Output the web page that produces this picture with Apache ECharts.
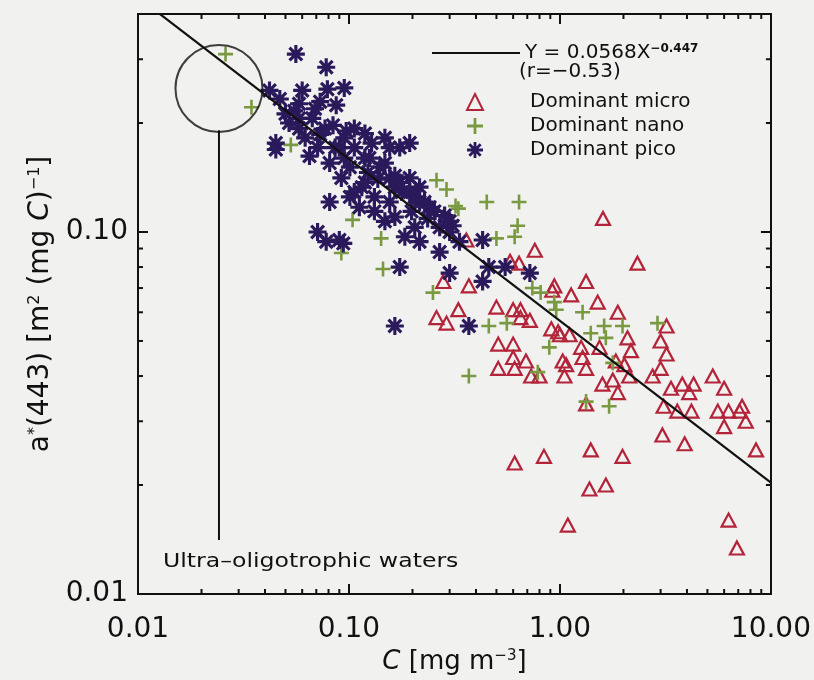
<!DOCTYPE html>
<html>
<head>
<meta charset="utf-8">
<script src="https://cdn.jsdelivr.net/npm/echarts@6/dist/echarts.min.js"></script>
<style>
html, body { margin: 0; padding: 0; background: #f1f1ef; }
#chart { width: 814px; height: 680px; }
</style>
</head>
<body>
<div id="chart"></div>
<script>
// Chlorophyll concentration C [mg m^-3] vs specific absorption a*(443)
const microData = [
  [0.36,0.095],[0.58,0.083],[0.64,0.082],[0.28,0.073],[0.37,0.071],[0.50,0.062],[0.60,0.061],
  [0.65,0.061],[0.26,0.058],[0.29,0.056],[0.33,0.061],[0.51,0.049],[0.60,0.049],[0.60,0.045],
  [0.51,0.042],[0.61,0.042],[1.60,0.109],[2.33,0.082],[0.76,0.089],[1.33,0.073],[0.94,0.071],
  [0.92,0.069],[1.13,0.067],[1.51,0.064],[1.88,0.060],[0.65,0.058],[0.72,0.057],[0.91,0.054],
  [0.98,0.053],[1.00,0.052],[1.11,0.052],[1.26,0.048],[1.54,0.048],[2.09,0.051],[2.17,0.047],
  [1.84,0.044],[2.02,0.043],[3.00,0.050],[3.20,0.055],[3.20,0.046],[3.00,0.042],[2.75,0.040],
  [0.69,0.044],[0.73,0.040],[0.80,0.040],[1.03,0.044],[1.07,0.043],[1.05,0.040],[1.28,0.045],
  [1.33,0.042],[1.59,0.038],[1.78,0.039],[1.88,0.036],[2.13,0.040],[3.36,0.037],[3.80,0.038],
  [4.30,0.038],[4.10,0.036],[5.30,0.040],[6.00,0.037],[3.10,0.033],[3.60,0.032],[4.20,0.032],
  [5.60,0.032],[6.30,0.032],[7.30,0.033],[7.10,0.032],[6.00,0.029],[7.60,0.030],[3.06,0.0275],
  [3.90,0.026],[0.61,0.023],[0.84,0.024],[1.40,0.025],[1.98,0.024],[1.38,0.0195],[1.65,0.020],
  [1.09,0.0155],[8.50,0.025],[6.30,0.016],[6.90,0.0134],[1.33,0.0335]
];

const nanoData = [
  [0.026,0.31],[0.0345,0.221],[0.053,0.174],[0.26,0.139],[0.104,0.108],[0.142,0.096],
  [0.29,0.131],[0.32,0.118],[0.45,0.121],[0.64,0.121],[0.63,0.104],[0.61,0.097],[0.092,0.0875],
  [0.145,0.079],[0.25,0.068],[0.46,0.055],[0.37,0.040],[0.56,0.056],[0.50,0.096],[0.33,0.116],
  [0.74,0.070],[0.81,0.068],[0.94,0.064],[0.96,0.061],[1.28,0.060],[1.62,0.055],[1.98,0.055],
  [1.65,0.051],[0.89,0.048],[1.40,0.0525],[1.78,0.0435],[0.785,0.041],[1.71,0.033],[2.90,0.056],
  [1.33,0.034]
];

const picoData = [
  [0.056,0.31],[0.078,0.285],[0.042,0.246],[0.060,0.246],[0.079,0.248],[0.095,0.25],[0.047,0.233],
  [0.050,0.212],[0.058,0.226],[0.073,0.229],[0.087,0.224],[0.045,0.176],[0.073,0.186],[0.084,0.197],
  [0.097,0.19],[0.194,0.176],[0.090,0.095],[0.045,0.169],[0.081,0.121],[0.094,0.093],[0.174,0.080],
  [0.165,0.055],[0.37,0.055],[0.30,0.077],[0.43,0.073],[0.43,0.095],[0.31,0.104],[0.55,0.080],
  [0.72,0.077],[0.46,0.080],
  [0.106,0.171],[0.119,0.160],[0.101,0.151],[0.128,0.176],[0.148,0.155],[0.165,0.143],[0.137,0.140],
  [0.115,0.133],[0.092,0.141],[0.081,0.155],[0.065,0.162],[0.071,0.171],[0.058,0.193],[0.052,0.200],
  [0.067,0.206],[0.148,0.182],[0.174,0.171],[0.178,0.129],[0.205,0.125],[0.228,0.121],[0.198,0.114],
  [0.236,0.109],[0.269,0.103],[0.284,0.111],[0.156,0.121],[0.132,0.114],[0.148,0.107],[0.112,0.117],
  [0.101,0.125],[0.071,0.100],[0.078,0.094],[0.184,0.097],[0.216,0.094],[0.269,0.088],[0.119,0.187],
  [0.090,0.171],[0.062,0.182],[0.055,0.216],[0.165,0.133],[0.194,0.141],[0.216,0.133],[0.241,0.117],
  [0.30,0.107],[0.334,0.094],[0.132,0.125],[0.123,0.146],
  [0.058,0.206],[0.086,0.171],[0.095,0.182],[0.106,0.193],[0.125,0.160],[0.140,0.151],[0.156,0.141],
  [0.174,0.137],[0.194,0.129],[0.216,0.121],[0.254,0.114],[0.30,0.100],[0.119,0.137],[0.106,0.129],
  [0.095,0.160],[0.077,0.193],[0.069,0.219],[0.156,0.171],[0.165,0.110],[0.205,0.103]
];

// Power-law fit Y = a * X^b and its correlation
const fitCoef = 0.0568;
const fitExp = -0.447;
const fitR = -0.53;

// Ultra-oligotrophic annotation: circle centre and the leader line below it
const oligoCentre = [0.0242, 0.249];
const oligoLeader = [[0.0242, 0.191], [0.0242, 0.0141]];

const xRange = [0.01, 10];
const yRange = [0.01, 0.4];
const xLabels = ['0.01', '0.10', '1.00', '10.00'];
const yLabels = ['0.01', '0.10'];

const seriesNames = ['Dominant micro', 'Dominant nano', 'Dominant pico'];

// minor ticks at 2..9 of each decade
function minorTicks(lo, hi) {
  const out = [];
  for (let d = lo; d < hi * 0.999; d *= 10) {
    for (let m = 2; m <= 9; m++) {
      const v = d * m;
      if (v < hi * 0.999) out.push(v);
    }
  }
  return out;
}
const xMinor = minorTicks(xRange[0], xRange[1]);
const yMinor = minorTicks(yRange[0], yRange[1]);

// symbol outlines
function starPath(arms, L, w) {
  const pts = [];
  const r = w / Math.sin(Math.PI / arms);
  for (let k = 0; k < arms; k++) {
    const t = k * 2 * Math.PI / arms;
    const c = Math.cos(t), s = Math.sin(t);
    pts.push([L * c + w * s, L * s - w * c]);
    pts.push([L * c - w * s, L * s + w * c]);
    const m = t + Math.PI / arms;
    pts.push([r * Math.cos(m), r * Math.sin(m)]);
  }
  return 'path://M' + pts.map(p => p[0].toFixed(3) + ',' + p[1].toFixed(3)).join('L') + 'Z';
}
const plusPath = 'path://M-1.3,-7.5L1.3,-7.5L1.3,-1.3L7.5,-1.3L7.5,1.3L1.3,1.3L1.3,7.5L-1.3,7.5L-1.3,1.3L-7.5,1.3L-7.5,-1.3L-1.3,-1.3Z';
const asteriskPath = starPath(8, 8, 1.4);
const fitIcon = 'path://M0,0L88,0L88,2.2L0,2.2Z';

const INK = '#111111';
const MICRO = '#b3243a';
const NANO = '#7a9a42';
const PICO = '#2a1a5c';
const FONT = 'DejaVu Sans';

function fmtNum(v) { return String(v).replace('-', '\u2212'); }

const fitLine = [xRange[0], xRange[1]].map(x => [x, fitCoef * Math.pow(x, fitExp)]);

const chart = echarts.init(document.getElementById('chart'));

const axisCommon = {
  type: 'log',
  logBase: 10,
  axisLine: { show: true, onZero: false, lineStyle: { color: INK, width: 2 } },
  axisTick: { show: true, inside: true, length: 10, lineStyle: { color: INK, width: 2 } },
  splitLine: { show: false },
  minorTick: { show: false },
  minorSplitLine: { show: false }
};

function near(v, ref) { return Math.abs(Math.log10(v) - Math.log10(ref)) < 1e-6; }

chart.setOption({
  backgroundColor: '#f1f1ef',
  animation: false,
  grid: { left: 138, right: 42, top: 14, bottom: 77, containLabel: false },
  xAxis: [
    Object.assign({}, axisCommon, {
      position: 'bottom',
      min: xRange[0], max: xRange[1],
      axisLabel: {
        show: true, margin: 22, color: INK, fontFamily: FONT, fontSize: 28,
        formatter: v => {
          const i = [0.01, 0.1, 1, 10].findIndex(r => near(v, r));
          return i >= 0 ? xLabels[i] : '';
        }
      },
      name: '{i|C} [mg m{s|\u22123}]',
      nameLocation: 'middle',
      nameGap: 55,
      nameTextStyle: {
        color: INK, fontFamily: FONT, fontSize: 26,
        rich: {
          i: { fontFamily: FONT, fontSize: 26, fontStyle: 'italic', color: INK },
          s: { fontFamily: FONT, fontSize: 15, color: INK, verticalAlign: 'top', padding: [0, 0, 10, 0] }
        }
      }
    }),
    Object.assign({}, axisCommon, {
      position: 'top',
      min: xRange[0], max: xRange[1],
      axisLabel: { show: false }
    })
  ],
  yAxis: [
    Object.assign({}, axisCommon, {
      position: 'left',
      min: yRange[0], max: yRange[1],
      axisLabel: {
        show: true, margin: 10, color: INK, fontFamily: FONT, fontSize: 28,
        formatter: v => {
          const i = [0.01, 0.1].findIndex(r => near(v, r));
          return i >= 0 ? yLabels[i] : '';
        }
      },
      name: '{t|a}{s|*}{t|(443) [m}{s|2}{t| (mg }{i|C}{t|)}{s|\u22121}{t|]}',
      nameLocation: 'middle',
      nameRotate: 90,
      nameGap: 80,
      nameTextStyle: {
        color: INK, fontFamily: FONT, fontSize: 28,
        rich: {
          t: { fontFamily: FONT, fontSize: 28, color: INK },
          i: { fontFamily: FONT, fontSize: 28, fontStyle: 'italic', color: INK },
          s: { fontFamily: FONT, fontSize: 16, color: INK, verticalAlign: 'top', padding: [0, 0, 10, 0] }
        }
      }
    }),
    Object.assign({}, axisCommon, {
      position: 'right',
      min: yRange[0], max: yRange[1],
      axisLabel: { show: false }
    })
  ],
  legend: [
    {
      data: [{ name: 'fit', icon: fitIcon }],
      left: 427, top: 38,
      itemWidth: 88, itemHeight: 14,
      selectedMode: false,
      formatter: () => '{t|Y = ' + fitCoef + 'X}{s|' + fmtNum(fitExp) + '}',
      textStyle: {
        color: INK, fontFamily: FONT, fontSize: 20,
        rich: {
          t: { fontFamily: FONT, fontSize: 20, color: INK, lineHeight: 16 },
          s: { fontFamily: FONT, fontSize: 12, fontWeight: 'bold', color: INK, verticalAlign: 'top', padding: [0, 0, 8, 0] }
        }
      }
    },
    {
      data: seriesNames,
      orient: 'vertical',
      left: 461, top: 87,
      itemWidth: 16, itemHeight: 16, itemGap: 4,
      selectedMode: false,
      formatter: name => '{t|' + name + '}',
      textStyle: {
        color: INK, fontFamily: FONT, fontSize: 20,
        rich: { t: { fontFamily: FONT, fontSize: 20, color: INK, lineHeight: 16, padding: [0, 0, 0, 42] } }
      }
    }
  ],
  graphic: [
    {
      type: 'text', left: 519, top: 62, silent: true,
      style: { text: '(r=' + fmtNum(fitR) + ')', fill: INK, font: '20px "DejaVu Sans"' }
    },
    {
      type: 'text', x: 163, y: 552, scaleX: 1.18, silent: true,
      style: { text: 'Ultra\u2013oligotrophic waters', fill: INK, font: '20px "DejaVu Sans"' }
    }
  ],
  series: [
    {
      name: 'minorTicks', type: 'custom', silent: true, clip: false, z: 10,
      xAxisIndex: 0, yAxisIndex: 0,
      data: [[1, 0.1]],
      renderItem: function (params, api) {
        const cs = params.coordSys;
        const L = 5;
        const st = { stroke: INK, lineWidth: 2 };
        const ch = [];
        xMinor.forEach(v => {
          const px = api.coord([v, 0.1])[0];
          ch.push({ type: 'line', shape: { x1: px, y1: cs.y + cs.height, x2: px, y2: cs.y + cs.height - L }, style: st });
          ch.push({ type: 'line', shape: { x1: px, y1: cs.y, x2: px, y2: cs.y + L }, style: st });
        });
        yMinor.forEach(v => {
          const py = api.coord([1, v])[1];
          ch.push({ type: 'line', shape: { x1: cs.x, y1: py, x2: cs.x + L, y2: py }, style: st });
          ch.push({ type: 'line', shape: { x1: cs.x + cs.width, y1: py, x2: cs.x + cs.width - L, y2: py }, style: st });
        });
        return { type: 'group', children: ch };
      }
    },
    {
      name: 'Dominant micro', type: 'scatter', data: microData, z: 2,
      symbol: 'triangle', symbolSize: [14, 13],
      itemStyle: { color: 'rgba(255,255,255,0)', borderColor: MICRO, borderWidth: 2.2, opacity: 1 }
    },
    {
      name: 'Dominant nano', type: 'scatter', data: nanoData, z: 3,
      symbol: plusPath, symbolSize: 15,
      itemStyle: { color: NANO, opacity: 1 }
    },
    {
      name: 'Dominant pico', type: 'scatter', data: picoData, z: 4,
      symbol: asteriskPath, symbolSize: 18,
      itemStyle: { color: PICO, opacity: 1 }
    },
    {
      name: 'fit', type: 'line', data: fitLine, z: 5,
      symbol: 'none', clip: true,
      lineStyle: { color: INK, width: 2.2 }, itemStyle: { color: INK }
    },
    {
      name: 'oligoCircle', type: 'scatter', data: [oligoCentre], z: 5, silent: true,
      symbol: 'circle', symbolSize: 87,
      itemStyle: { color: 'rgba(0,0,0,0)', borderColor: INK, borderWidth: 2 }
    },
    {
      name: 'oligoLeader', type: 'line', data: oligoLeader, z: 5, silent: true,
      symbol: 'none', lineStyle: { color: INK, width: 2 }
    }
  ]
});
</script>
</body>
</html>
